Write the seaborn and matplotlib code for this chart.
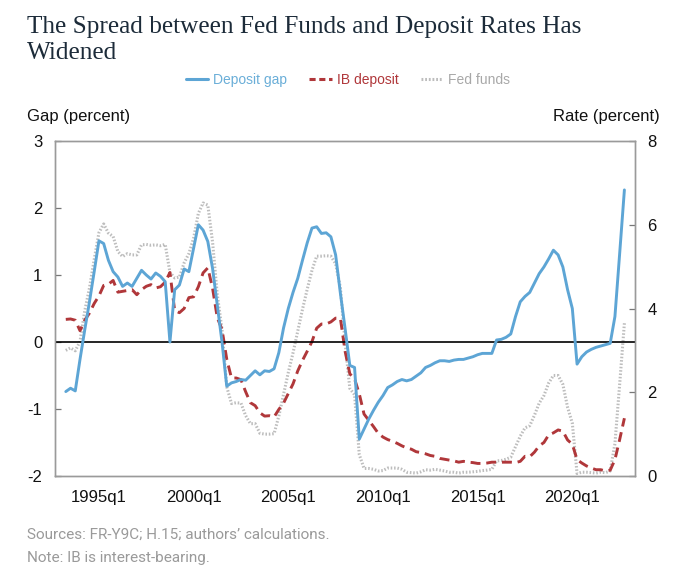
import numpy as np
import pandas as pd
import matplotlib
matplotlib.use("Agg")
import matplotlib.pyplot as plt
import seaborn as sns

# ---------------- data (quarterly, 1993q2 .. 2022q4) ----------------
quarters = pd.period_range("1993Q2", "2022Q4", freq="Q")

deposit_gap = [
    -0.74, -0.69, -0.73,
    -0.26, 0.18, 0.60, 1.05,
    1.51, 1.47, 1.22, 1.05,
    0.97, 0.83, 0.88, 0.83,
    0.95, 1.07, 1.00, 0.94,
    1.03, 0.98, 0.90, 0.00,
    0.78, 0.85, 1.09, 1.05,
    1.40, 1.75, 1.67, 1.50,
    1.10, 0.55, 0.00, -0.66,
    -0.61, -0.59, -0.56, -0.57,
    -0.50, -0.43, -0.49, -0.43,
    -0.44, -0.40, -0.16, 0.21,
    0.50, 0.74, 0.95, 1.22,
    1.48, 1.70, 1.72, 1.62,
    1.63, 1.57, 1.30, 0.73,
    0.20, -0.35, -0.38, -1.45,
    -1.30, -1.15, -1.02, -0.90,
    -0.80, -0.68, -0.64, -0.59,
    -0.56, -0.58, -0.56, -0.51,
    -0.46, -0.38, -0.35, -0.31,
    -0.28, -0.28, -0.29, -0.27,
    -0.26, -0.26, -0.24, -0.22,
    -0.19, -0.17, -0.17, -0.17,
    0.03, 0.04, 0.07, 0.12,
    0.38, 0.60, 0.68, 0.74,
    0.88, 1.02, 1.12, 1.24,
    1.37, 1.30, 1.12, 0.78,
    0.50, -0.33, -0.22, -0.15,
    -0.11, -0.08, -0.06, -0.04,
    -0.02, 0.38, 1.32, 2.27,
]

ib_deposit = [
    3.74, 3.75, 3.72,
    3.47, 3.72, 3.89, 4.12,
    4.30, 4.55, 4.58, 4.67,
    4.39, 4.41, 4.43, 4.45,
    4.33, 4.45, 4.53, 4.57,
    4.49, 4.52, 4.63, 4.86,
    3.95, 3.90, 4.00, 4.26,
    4.28, 4.52, 4.85, 4.97,
    4.49, 3.78, 3.50, 2.79,
    2.34, 2.34, 2.30, 2.01,
    1.75, 1.68, 1.51, 1.43,
    1.44, 1.41, 1.59, 1.74,
    1.97, 2.20, 2.51, 2.76,
    2.98, 3.21, 3.53, 3.63,
    3.63, 3.68, 3.77, 3.77,
    2.98, 2.44, 2.32, 1.96,
    1.48, 1.33, 1.18, 1.02,
    0.93, 0.87, 0.83, 0.78,
    0.72, 0.67, 0.64, 0.58,
    0.56, 0.53, 0.49, 0.47,
    0.42, 0.40, 0.38, 0.36,
    0.33, 0.35, 0.33, 0.32,
    0.30, 0.30, 0.31, 0.33,
    0.33, 0.33, 0.33, 0.33,
    0.32, 0.35, 0.47, 0.46,
    0.57, 0.72, 0.80, 0.98,
    1.03, 1.10, 1.07, 0.86,
    0.76, 0.39, 0.31, 0.24,
    0.19, 0.15, 0.15, 0.12,
    0.14, 0.39, 0.87, 1.38,
]

fed_funds = [
    3.00, 3.06, 2.99,
    3.21, 3.94, 4.49, 5.17,
    5.81, 6.02, 5.80, 5.72,
    5.36, 5.24, 5.31, 5.28,
    5.28, 5.52, 5.53, 5.51,
    5.52, 5.50, 5.53, 4.86,
    4.73, 4.75, 5.09, 5.31,
    5.68, 6.27, 6.52, 6.47,
    5.59, 4.33, 3.50, 2.13,
    1.73, 1.75, 1.74, 1.44,
    1.25, 1.25, 1.02, 1.00,
    1.00, 1.01, 1.43, 1.95,
    2.47, 2.94, 3.46, 3.98,
    4.46, 4.91, 5.25, 5.25,
    5.26, 5.25, 5.07, 4.50,
    3.18, 2.09, 1.94, 0.51,
    0.18, 0.18, 0.16, 0.12,
    0.13, 0.19, 0.19, 0.19,
    0.16, 0.09, 0.08, 0.07,
    0.10, 0.15, 0.14, 0.16,
    0.14, 0.12, 0.09, 0.09,
    0.07, 0.09, 0.09, 0.10,
    0.11, 0.13, 0.14, 0.16,
    0.36, 0.37, 0.40, 0.45,
    0.70, 0.95, 1.15, 1.20,
    1.45, 1.74, 1.92, 2.22,
    2.40, 2.40, 2.19, 1.64,
    1.26, 0.06, 0.09, 0.09,
    0.08, 0.07, 0.09, 0.08,
    0.12, 0.77, 2.19, 3.65,
]

tick_years = [1995, 2000, 2005, 2010, 2015, 2020]
tick_labels = ["1995q1", "2000q1", "2005q1", "2010q1", "2015q1", "2020q1"]
left_ticks = [-2, -1, 0, 1, 2, 3]
right_ticks = [0, 2, 4, 6, 8]

series_names = ["Deposit gap", "IB deposit", "Fed funds"]
colors = ["#5DA5D5", "#B0373A", "#BDBDBD"]

# ---------------- frame ----------------
t = np.array([q.year + (q.quarter - 1) / 4 for q in quarters])
df = pd.DataFrame({"t": t, "gap": deposit_gap, "ib": ib_deposit, "ff": fed_funds})

sns.set_theme(style="white")
plt.rcParams["font.family"] = ["Liberation Sans", "DejaVu Sans"]

fig = plt.figure(figsize=(7.0, 5.78), dpi=100)
ax = fig.add_axes([55 / 700, 1 - 476 / 578, (635 - 55) / 700, (476 - 141) / 578])
ax2 = ax.twinx()

sns.lineplot(data=df, x="t", y="ff", ax=ax2, color=colors[2], lw=2.2,
             linestyle=(0, (0.5, 0.6)), label="_ff")
sns.lineplot(data=df, x="t", y="ib", ax=ax2, color=colors[1], lw=2.1,
             linestyle=(0, (3.4, 2.0)), label="_ib")
ax.axhline(0, color="black", lw=1.2, zorder=1)
sns.lineplot(data=df, x="t", y="gap", ax=ax, color=colors[0], lw=2.1,
             label="_gap", zorder=3)

ax.set_zorder(ax2.get_zorder() + 1)
ax.patch.set_visible(False)

ax.set_xlim(1992.68, 2023.31)
ax.set_ylim(-2, 3)
ax2.set_ylim(0, 8)
ax.set_yticks(left_ticks)
ax.set_yticklabels([str(v) for v in left_ticks])
ax2.set_yticks(right_ticks)
ax2.set_yticklabels([str(v) for v in right_ticks])
ax.set_xticks(tick_years)
ax.set_xticklabels(tick_labels)
ax.set_xlabel("")
ax.set_ylabel("")
ax2.set_ylabel("")

for a in (ax, ax2):
    a.tick_params(direction="in", length=4, width=0.9, color="#777777",
                  labelsize=12, labelcolor="#111111", pad=9)
    for s in a.spines.values():
        s.set_color("#9a9a9a")
        s.set_linewidth(1.0)
ax.tick_params(axis="x", pad=10)
ax.tick_params(axis="y", left=True)
ax2.tick_params(axis="y", right=True)
for a in (ax, ax2):
    if a.get_legend() is not None:
        a.get_legend().remove()

# ---------------- text ----------------
title_kw = dict(family=["Liberation Serif", "DejaVu Serif"], fontsize=18.2,
                color="#1c2b39", va="baseline", ha="left")
fig.text(27 / 700, 1 - 33 / 578, "The Spread between Fed Funds and Deposit Rates Has", **title_kw)
fig.text(27 / 700, 1 - 59 / 578, "Widened", **title_kw)

fig.text(27 / 700, 1 - 117 / 578, "Gap (percent)", fontsize=12, color="#111111",
         va="center", ha="left")
fig.text(660 / 700, 1 - 117 / 578, "Rate (percent)", fontsize=12, color="#111111",
         va="center", ha="right")

handles = [
    plt.Line2D([], [], color=colors[0], lw=2.2),
    plt.Line2D([], [], color=colors[1], lw=2.2, linestyle=(0, (2.0, 1.2))),
    plt.Line2D([], [], color=colors[2], lw=2.2, linestyle=(0, (0.6, 0.6))),
]
leg = fig.legend(handles, series_names, loc="center", bbox_to_anchor=(0.497, 1 - 80 / 578),
                 ncol=3, frameon=False, fontsize=10, handlelength=1.6,
                 handletextpad=0.35, columnspacing=1.6)
for txt, c in zip(leg.get_texts(), ["#6aaed8", "#B0373A", "#a8a8a8"]):
    txt.set_color(c)

foot_kw = dict(family=["Roboto", "DejaVu Sans"], fontsize=11, color="#9a9a9a",
               va="baseline", ha="left")
fig.text(27 / 700, 1 - 539 / 578, "Sources: FR-Y9C; H.15; authors’ calculations.", **foot_kw)
fig.text(27 / 700, 1 - 562 / 578, "Note: IB is interest-bearing.", **foot_kw)

fig.savefig("out.png", dpi=100)
